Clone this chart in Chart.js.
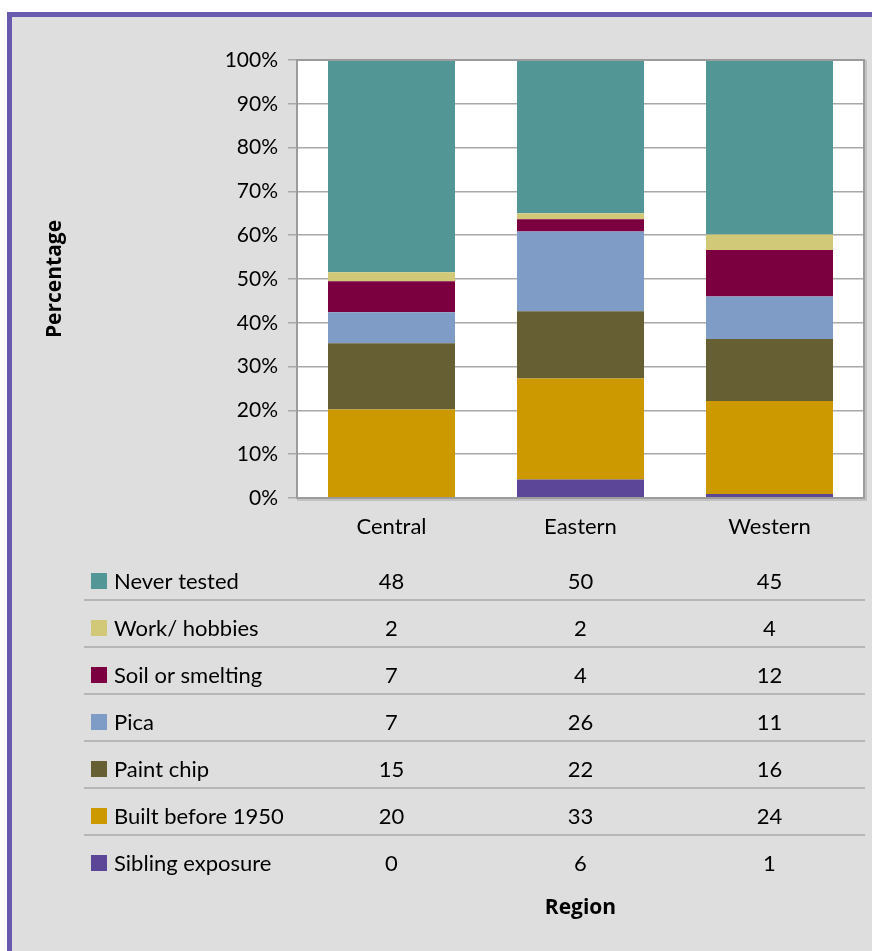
<!DOCTYPE html>
<html>
<head>
<meta charset="utf-8">
<script src="https://cdn.jsdelivr.net/npm/chart.js@4"></script>
<style>
  html, body { margin: 0; padding: 0; background: #ffffff; overflow: hidden; }
  #frame {
    position: absolute; left: 7px; top: 12px; width: 900px; height: 960px;
    background: #dedede; border-left: 5px solid #6a5aad; border-top: 5px solid #6a5aad;
  }
  #chart { position: absolute; left: 0; top: 0; }
</style>
</head>
<body>
<div id="frame"></div>
<canvas id="chart" width="872" height="951"></canvas>
<script>
// Sources of exposure, counts per region (table rows, top to bottom)
var regions = ['Central', 'Eastern', 'Western'];
var sources = ['Never tested', 'Work/ hobbies', 'Soil or smelting', 'Pica', 'Paint chip', 'Built before 1950', 'Sibling exposure'];
var neverTested = [48, 50, 45];
var workHobbies = [2, 2, 4];
var soilSmelting = [7, 4, 12];
var pica = [7, 26, 11];
var paintChip = [15, 22, 16];
var builtBefore1950 = [20, 33, 24];
var siblingExposure = [0, 6, 1];
var sourceColors = ['#529696', '#d1c878', '#7b003f', '#7f9cc7', '#665f33', '#cc9900', '#5c4697'];
var yTicks = [0, 10, 20, 30, 40, 50, 60, 70, 80, 90, 100];

var rows = [neverTested, workHobbies, soilSmelting, pica, paintChip, builtBefore1950, siblingExposure];

(function () {
  var totals = regions.map(function (r, i) {
    return rows.reduce(function (s, row) { return s + row[i]; }, 0);
  });

  function share(row) {
    return row.map(function (v, i) { return v / totals[i] * 100; });
  }

  // stacked bottom-up: last table row sits at the bottom of the bar
  var datasets = [];
  for (var k = rows.length - 1; k >= 0; k--) {
    datasets.push({
      label: sources[k],
      data: share(rows[k]),
      counts: rows[k],
      backgroundColor: sourceColors[k],
      borderWidth: 0,
      categoryPercentage: 1,
      barPercentage: 0.672
    });
  }

  var tableFont = "22px Lato, 'Open Sans', sans-serif";

  var plotFrame = {
    id: 'plotFrame',
    beforeDraw: function (chart) {
      var a = chart.chartArea, ctx = chart.ctx;
      ctx.save();
      ctx.fillStyle = '#ffffff';
      ctx.fillRect(a.left, a.top, a.right - a.left, a.bottom - a.top);
      ctx.restore();
    },
    afterDatasetsDraw: function (chart) {
      var a = chart.chartArea, ctx = chart.ctx;
      ctx.save();
      ctx.strokeStyle = '#c2c2c2';
      ctx.lineWidth = 2;
      ctx.beginPath();
      ctx.moveTo(a.right + 2, a.top);
      ctx.lineTo(a.right + 2, a.bottom + 2);
      ctx.lineTo(a.left, a.bottom + 2);
      ctx.stroke();
      ctx.strokeStyle = '#9c9c9c';
      ctx.lineWidth = 2;
      ctx.strokeRect(a.left, a.top, a.right - a.left, a.bottom - a.top);
      ctx.restore();
    }
  };

  // data table under the category axis, legend keys in the first column
  var dataTable = {
    id: 'dataTable',
    afterDraw: function (chart) {
      var ctx = chart.ctx, x = chart.scales.x;
      var top = 553, rowH = 47, lineLeft = 84, lineRight = 865;
      ctx.save();
      ctx.font = tableFont;
      ctx.textBaseline = 'middle';
      sources.forEach(function (name, r) {
        var cy = top + rowH * r + 28;
        ctx.fillStyle = sourceColors[r];
        ctx.fillRect(91, cy - 8, 16, 16);
        ctx.fillStyle = '#000000';
        ctx.textAlign = 'left';
        ctx.fillText(name, 114, cy + 1);
        ctx.textAlign = 'center';
        rows[r].forEach(function (v, i) {
          ctx.fillText(String(v), x.getPixelForValue(i), cy + 1);
        });
        if (r < sources.length - 1) {
          ctx.strokeStyle = '#a8a8a8';
          ctx.lineWidth = 1.5;
          ctx.beginPath();
          ctx.moveTo(lineLeft, top + rowH * (r + 1));
          ctx.lineTo(lineRight, top + rowH * (r + 1));
          ctx.stroke();
        }
      });
      ctx.restore();
    }
  };

  new Chart(document.getElementById('chart').getContext('2d'), {
    type: 'bar',
    data: { labels: regions, datasets: datasets },
    plugins: [plotFrame, dataTable],
    options: {
      responsive: false,
      animation: false,
      layout: { padding: { top: 60, right: 8, bottom: 0, left: 0 } },
      plugins: {
        legend: { display: false },
        tooltip: {
          callbacks: {
            label: function (ctx) {
              return ctx.dataset.label + ': ' + ctx.dataset.counts[ctx.dataIndex];
            }
          }
        }
      },
      scales: {
        x: {
          stacked: true,
          grid: { display: false, drawTicks: false },
          border: { display: false },
          ticks: {
            color: '#000000',
            padding: 16,
            font: { family: "Lato, 'Open Sans', sans-serif", size: 22 }
          },
          title: {
            display: true,
            text: 'Region',
            color: '#000000',
            padding: { top: 0, bottom: 30 },
            font: { family: "'Open Sans', sans-serif", size: 21, weight: 'bold' }
          },
          afterFit: function (scale) { scale.height = 453; }
        },
        y: {
          stacked: true,
          min: 0,
          max: 100,
          afterBuildTicks: function (scale) {
            scale.ticks = yTicks.map(function (v) { return { value: v }; });
          },
          grid: { color: '#a8a8a8', lineWidth: 1.5, tickLength: 9 },
          border: { color: '#9c9c9c', width: 2 },
          ticks: {
            color: '#000000',
            padding: 10,
            font: { family: "Lato, 'Open Sans', sans-serif", size: 21 },
            callback: function (v) { return v + '%'; }
          },
          title: {
            display: true,
            text: 'Percentage',
            color: '#000000',
            padding: { top: 42, bottom: 0 },
            font: { family: "'Open Sans', sans-serif", size: 21, weight: 'bold' }
          },
          afterFit: function (scale) { scale.width = 297; }
        }
      }
    }
  });
})();
</script>
</body>
</html>
